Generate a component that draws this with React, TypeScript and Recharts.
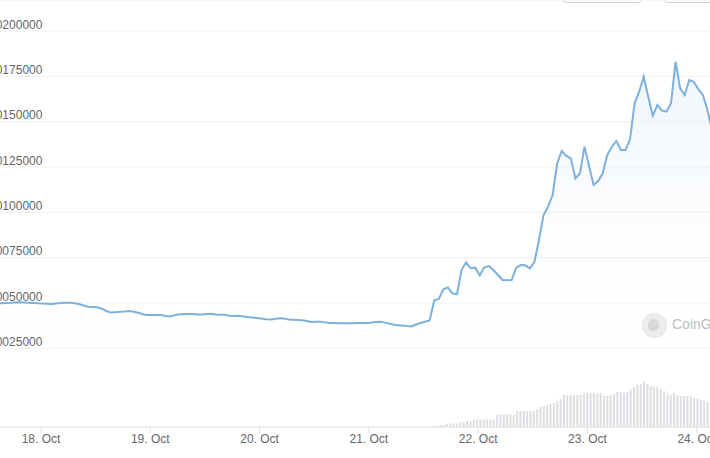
import { AreaChart, Area, BarChart, Bar, XAxis, YAxis, CartesianGrid } from 'recharts';

// hourly price samples, first one at 17 Oct ~14:20 (hours are counted from 18 Oct 00:00)
const PRICE_START_HOUR = -9.65;
const PRICES = [
    0.0005000, 0.0004983, 0.0005000, 0.0005011, 0.0005028, 0.0005039, 0.0005028, 0.0005011, 0.0005000, 0.0004983,
    0.0004972, 0.0004956, 0.0004945, 0.0004972, 0.0005000, 0.0005017, 0.0005011, 0.0004989, 0.0004945, 0.0004862,
    0.0004790, 0.0004785, 0.0004763, 0.0004686, 0.0004559, 0.0004471, 0.0004493, 0.0004515, 0.0004526, 0.0004559,
    0.0004515, 0.0004460, 0.0004377, 0.0004338, 0.0004338, 0.0004338, 0.0004338, 0.0004283, 0.0004256, 0.0004322,
    0.0004377, 0.0004382, 0.0004393, 0.0004393, 0.0004371, 0.0004360, 0.0004393, 0.0004410, 0.0004366, 0.0004349,
    0.0004349, 0.0004300, 0.0004283, 0.0004294, 0.0004267, 0.0004222, 0.0004195, 0.0004167, 0.0004140, 0.0004101,
    0.0004090, 0.0004118, 0.0004156, 0.0004140, 0.0004085, 0.0004074, 0.0004063, 0.0004046, 0.0004002, 0.0003952,
    0.0003963, 0.0003963, 0.0003930, 0.0003897, 0.0003892, 0.0003886, 0.0003881, 0.0003881, 0.0003886, 0.0003892,
    0.0003897, 0.0003897, 0.0003908, 0.0003952, 0.0003963, 0.0003930, 0.0003864, 0.0003809, 0.0003765, 0.0003759,
    0.0003732, 0.0003704, 0.0003814, 0.0003897, 0.0003969, 0.0004035, 0.0005137, 0.0005220, 0.0005755, 0.0005854,
    0.0005534, 0.0005479, 0.0006819, 0.0007244, 0.0006913, 0.0006946, 0.0006527, 0.0006968, 0.0007040, 0.0006819,
    0.0006543, 0.0006268, 0.0006251, 0.0006268, 0.0006929, 0.0007095, 0.0007078, 0.0006913, 0.0007260, 0.0008474,
    0.0009852, 0.0010310, 0.0010955, 0.0012704, 0.0013382, 0.0013106, 0.0012979, 0.0011876, 0.0012152, 0.0013619,
    0.0012555, 0.0011507, 0.0011728, 0.0012152, 0.0013161, 0.0013619, 0.0013934, 0.0013437, 0.0013437, 0.0014027,
    0.0016013, 0.0016652, 0.0017480, 0.0016377, 0.0015329, 0.0015919, 0.0015605, 0.0015549, 0.0016013, 0.0018307,
    0.0016840, 0.0016470, 0.0017298, 0.0017204, 0.0016785, 0.0016470, 0.0015643, 0.0014540, 0.0013713,
];

// volume bars (relative units), one every 44 minutes from 21 Oct afternoon
const VOLUME_START_HOUR = 86.15;
const VOLUME_STEP_HOURS = 44 / 60;
const VOLUMES = [
    1, 1, 2, 2, 3, 3.5, 3.5, 3.5, 4.5, 4.5,
    6, 6, 7.5, 7.5, 7.5, 7.5, 7.5, 7.5, 7.5, 12.5,
    12.5, 12.5, 12.5, 12.5, 12.5, 16, 16, 16, 16, 16,
    16, 18, 20, 21, 22, 23, 24, 26, 28, 32,
    32, 32, 32, 32, 32, 33, 34, 34, 34, 33,
    34, 31, 31, 32, 33, 35, 35, 34, 35, 37,
    40, 42, 43, 45, 43, 41, 40, 40, 38, 36,
    34, 32, 34, 32, 31, 31, 31, 31, 29, 28,
    27, 26, 25, 25,
];

const DAY_TICKS = [0, 24, 48, 72, 96, 120, 144];
const DAY_LABELS = ['18. Oct', '19. Oct', '20. Oct', '21. Oct', '22. Oct', '23. Oct', '24. Oct'];
const PRICE_TICKS = [0.00025, 0.0005, 0.00075, 0.001, 0.00125, 0.0015, 0.00175, 0.002];

const X_DOMAIN: [number, number] = [-14.27, 151.3];
const Y_DOMAIN: [number, number] = [-0.000184, 0.002171];

const CHART_W = 754;
const CHART_H = 458;
const FONT = '"Liberation Sans", Arial, Helvetica, sans-serif';

const priceData = PRICES.map((p, i) => ({ t: PRICE_START_HOUR + i, price: p }));
const volumeData = VOLUMES.map((v, i) => ({ t: VOLUME_START_HOUR + i * VOLUME_STEP_HOURS, volume: v }));

function PriceTick(props: any) {
    const { y, payload } = props;
    return (
        <text x={3} y={y - 2.3} fill="#666" fontSize={12} fontFamily={FONT} textAnchor="start">
            {Number(payload.value).toFixed(8)}
        </text>
    );
}

export default function App() {
    return (
        <div style={{ position: 'fixed', left: 0, top: 0, width: 710, height: 458, overflow: 'hidden', background: '#fff', fontFamily: FONT }}>
            {/* buttons of the toolbar above, only their lower edges show */}
            <div style={{ position: 'absolute', left: 562, top: -26, width: 78, height: 27, border: '1px solid #d2d2d2', borderRadius: 4 }} />
            <div style={{ position: 'absolute', left: 663, top: -26, width: 80, height: 27, border: '1px solid #d2d2d2', borderRadius: 4 }} />

            <div style={{ position: 'absolute', left: -24, top: 0 }}>
                <BarChart width={CHART_W} height={CHART_H} data={volumeData} margin={{ top: 327, right: 0, bottom: 31, left: 0 }}>
                    <XAxis dataKey="t" type="number" domain={X_DOMAIN} allowDataOverflow hide />
                    <YAxis type="number" domain={[0, 100]} allowDataOverflow hide />
                    <Bar dataKey="volume" fill="#dcdee2" barSize={2} isAnimationActive={false} />
                </BarChart>
            </div>

            {/* CoinGecko watermark */}
            <div style={{ position: 'absolute', left: 642, top: 313, width: 23, height: 23, borderRadius: '50%', background: '#ececec', border: '1px solid #e0e0e0' }}>
                <div style={{ position: 'absolute', left: 5, top: 5, width: 11, height: 12, borderRadius: '50% 50% 40% 40%', background: '#d6d6d6' }} />
            </div>
            <div style={{ position: 'absolute', left: 672, top: 316, fontSize: 14, color: '#b9b9b9', whiteSpace: 'nowrap' }}>CoinGecko</div>

            <div style={{ position: 'absolute', left: -24, top: 0 }}>
                <AreaChart width={CHART_W} height={CHART_H} data={priceData} margin={{ top: 0, right: 0, bottom: 1, left: 0 }}>
                    <defs>
                        <linearGradient id="priceFill" x1="0" y1="0" x2="0" y2="1">
                            <stop offset="0%" stopColor="#d4e4f5" stopOpacity={0.6} />
                            <stop offset="100%" stopColor="#ffffff" stopOpacity={0} />
                        </linearGradient>
                    </defs>
                    <CartesianGrid vertical={false} stroke="#f0f0f0" />
                    <XAxis
                        dataKey="t"
                        type="number"
                        domain={X_DOMAIN}
                        allowDataOverflow
                        ticks={DAY_TICKS}
                        tickFormatter={(v: number) => DAY_LABELS[DAY_TICKS.indexOf(v)] ?? ''}
                        stroke="#e2e2e2"
                        tick={{ fill: '#666', fontSize: 12 }}
                        tickSize={6}
                        tickMargin={1}
                        height={30}
                    />
                    <YAxis
                        type="number"
                        domain={Y_DOMAIN}
                        allowDataOverflow
                        ticks={PRICE_TICKS}
                        mirror
                        axisLine={false}
                        tickLine={false}
                        tick={<PriceTick />}
                    />
                    <Area
                        type="linear"
                        dataKey="price"
                        stroke="#7cb0dd"
                        strokeWidth={2}
                        fill="url(#priceFill)"
                        dot={false}
                        activeDot={false}
                        isAnimationActive={false}
                    />
                </AreaChart>
            </div>
        </div>
    );
}
